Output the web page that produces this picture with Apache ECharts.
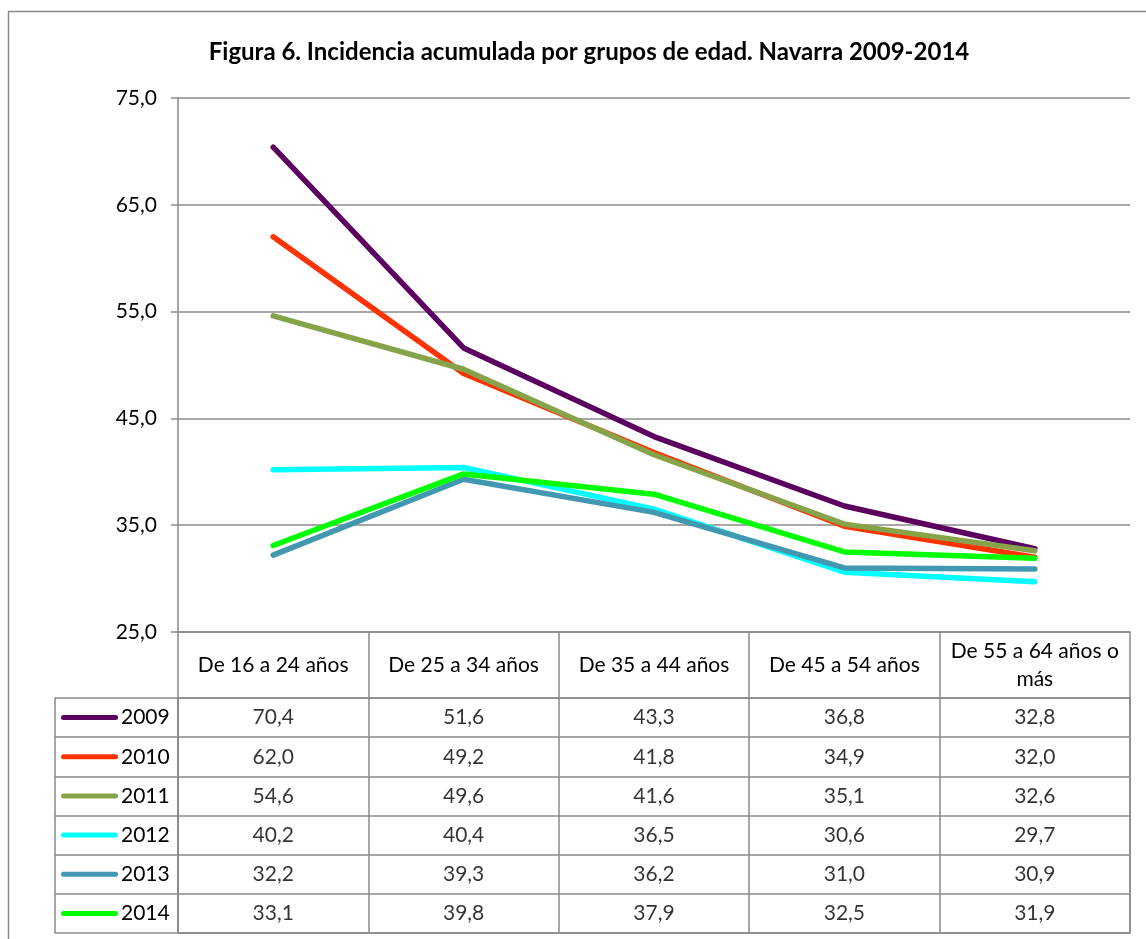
<!DOCTYPE html>
<html>
<head>
    <meta charset="UTF-8">
    <title>Figura 6</title>
    <script src="https://cdn.jsdelivr.net/npm/echarts@6/dist/echarts.min.js"></script>
    <style>
        html, body { margin: 0; padding: 0; background: #fff; }
        #main { width: 1146px; height: 939px; }
    </style>
</head>
<body>
<div id="main"></div>
<script type="text/javascript">
    // categorias (grupos de edad)
    var categories = ['De 16 a 24 años', 'De 25 a 34 años', 'De 35 a 44 años', 'De 45 a 54 años', 'De 55 a 64 años o\nmás'];
    var years = ['2009', '2010', '2011', '2012', '2013', '2014'];

    // incidencia acumulada por año
    var s2009 = [70.4, 51.6, 43.3, 36.8, 32.8];
    var s2010 = [62.0, 49.2, 41.8, 34.9, 32.0];
    var s2011 = [54.6, 49.6, 41.6, 35.1, 32.6];
    var s2012 = [40.2, 40.4, 36.5, 30.6, 29.7];
    var s2013 = [32.2, 39.3, 36.2, 31.0, 30.9];
    var s2014 = [33.1, 39.8, 37.9, 32.5, 31.9];
    var yTicks = [25, 35, 45, 55, 65, 75];

    var allSeries = [s2009, s2010, s2011, s2012, s2013, s2014];
    var colors = ['#5c0060', '#ff3300', '#86a34a', '#00ffff', '#4298b0', '#00ff00'];
    var grey = '#8a8a8a';
    var font = 'Lato, "Open Sans", sans-serif';

    function fmt(v) {
        return v.toFixed(1).replace('.', ',');
    }

    var myChart = echarts.init(document.getElementById('main'));

    var series = [];
    years.forEach(function (y, i) {
        series.push({
            name: y,
            type: 'line',
            xAxisIndex: 0,
            yAxisIndex: 0,
            data: allSeries[i],
            symbol: 'none',
            lineStyle: { width: 5.5, color: colors[i], cap: 'round', join: 'round' },
            itemStyle: { color: colors[i] },
            animation: false
        });
    });

    // celdas de la tabla
    var cells = [];
    allSeries.forEach(function (arr, r) {
        arr.forEach(function (v, c) {
            cells.push([c, r, v]);
        });
    });
    series.push({
        type: 'scatter',
        xAxisIndex: 1,
        yAxisIndex: 1,
        data: cells,
        symbolSize: 1,
        itemStyle: { color: 'rgba(0,0,0,0)' },
        label: {
            show: true,
            position: 'inside',
            color: '#000',
            fontFamily: font,
            fontSize: 21,
            formatter: function (p) { return fmt(p.value[2]); }
        },
        silent: true,
        animation: false
    });

    var rich = { t: { fontFamily: font, fontSize: 21, color: '#000', padding: [0, 0, 0, 3] } };
    colors.forEach(function (c, i) {
        rich['l' + i] = { width: 57, height: 5, backgroundColor: c, borderRadius: 2.5 };
    });

    var option = {
        backgroundColor: '#fff',
        animation: false,
        title: {
            text: 'Figura 6. Incidencia acumulada por grupos de edad. Navarra 2009-2014',
            left: 584,
            top: 35,
            textAlign: 'center',
            textStyle: { fontFamily: font, fontWeight: 'bold', fontSize: 24, color: '#000' }
        },
        graphic: [{
            type: 'rect',
            shape: { x: 8.5, y: 11.5, width: 1200, height: 1000 },
            style: { fill: 'none', stroke: grey, lineWidth: 1.5 },
            silent: true
        }],
        grid: [
            { left: 178, right: 16, top: 98, bottom: 307, outerBoundsMode: 'none' },
            { left: 178, right: 16, top: 698, bottom: 6, outerBoundsMode: 'none',
              show: true, borderColor: grey, borderWidth: 1.5 }
        ],
        xAxis: [
            {
                type: 'category',
                gridIndex: 0,
                data: categories,
                boundaryGap: true,
                axisLine: { show: true, lineStyle: { color: grey, width: 1.5 } },
                axisTick: { show: true, length: 66, alignWithLabel: false, interval: 0, lineStyle: { color: grey, width: 1.5 } },
                axisLabel: {
                    interval: 0, margin: 33, color: '#000', fontFamily: font, fontSize: 21,
                    verticalAlign: 'middle', lineHeight: 28
                }
            },
            {
                type: 'category',
                gridIndex: 1,
                data: categories,
                boundaryGap: true,
                axisLine: { show: false },
                axisTick: { show: false },
                axisLabel: { show: false },
                splitLine: { show: true, interval: 0, lineStyle: { color: grey, width: 1.5 } }
            }
        ],
        yAxis: [
            {
                type: 'value',
                gridIndex: 0,
                min: yTicks[0],
                max: yTicks[yTicks.length - 1],
                interval: 10,
                axisLine: { show: true, lineStyle: { color: grey, width: 1.5 } },
                axisTick: { show: true, length: 7, lineStyle: { color: grey, width: 1.5 } },
                splitLine: { show: true, lineStyle: { color: grey, width: 1.5 } },
                axisLabel: {
                    margin: 21, color: '#000', fontFamily: font, fontSize: 21,
                    formatter: function (v) { return fmt(v); }
                }
            },
            {
                type: 'category',
                gridIndex: 1,
                data: years,
                inverse: true,
                boundaryGap: true,
                axisLine: { show: true, lineStyle: { color: grey, width: 1.5 } },
                axisTick: { show: true, length: 123, interval: 0, alignWithLabel: false, lineStyle: { color: grey, width: 1.5 } },
                splitLine: { show: true, interval: 0, lineStyle: { color: grey, width: 1.5 } },
                axisLabel: {
                    interval: 0,
                    margin: 117,
                    align: 'left',
                    formatter: function (v, i) { return '{l' + i + '|}{t|' + v + '}'; },
                    rich: rich
                }
            },
            {
                type: 'category',
                gridIndex: 1,
                data: years,
                inverse: true,
                position: 'left',
                offset: 123,
                axisLine: { show: true, lineStyle: { color: grey, width: 1.5 } },
                axisTick: { show: false },
                axisLabel: { show: false },
                splitLine: { show: false }
            }
        ],
        series: series
    };

    myChart.setOption(option);
</script>
</body>
</html>
